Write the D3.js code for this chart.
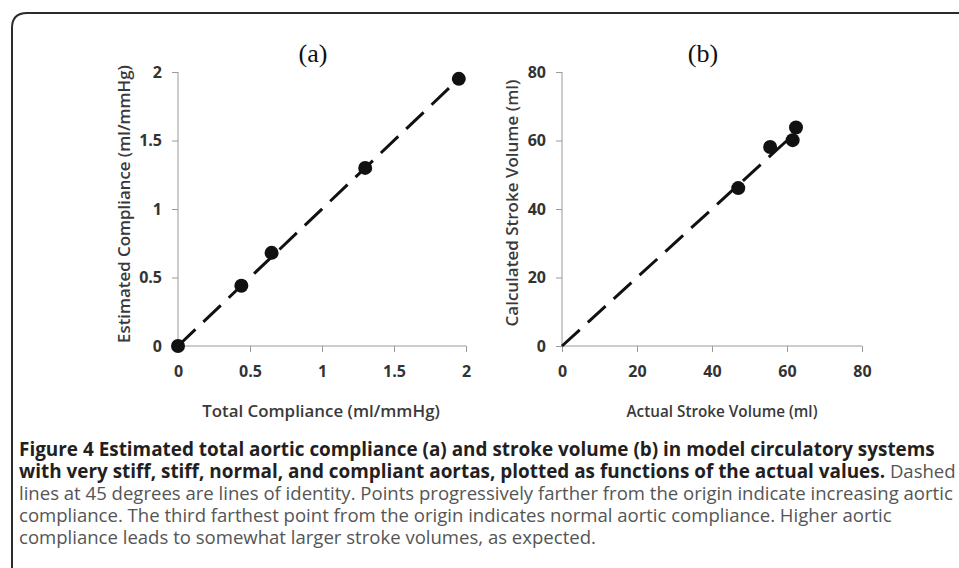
<!DOCTYPE html>
<html>
<head>
<meta charset="utf-8">
<script src="https://cdn.jsdelivr.net/npm/d3@7"></script>
<style>
	body { margin: 0; background: #fff; }
	svg { display: block; }
</style>
</head>
<body>
<svg id="fig" width="959" height="568"></svg>
<script>
// panel (a): total compliance vs estimated compliance (ml/mmHg)
var complianceActual = [0, 0.44, 0.65, 1.30, 1.95],
	complianceEstimated = [0, 0.44, 0.68, 1.30, 1.95],
	complianceTicks = [0, 0.5, 1, 1.5, 2];

// panel (b): actual vs calculated stroke volume (ml)
var strokeActual = [47, 55.5, 61.5, 62.4],
	strokeCalculated = [46.1, 58.1, 60.1, 63.8],
	strokeTicks = [0, 20, 40, 60, 80];

var captionBold1 = 'Figure 4 Estimated total aortic compliance (a) and stroke volume (b) in model circulatory systems',
	captionBold2 = 'with very stiff, stiff, normal, and compliant aortas, plotted as functions of the actual values.',
	captionRest = [
		' Dashed',
		'lines at 45 degrees are lines of identity. Points progressively farther from the origin indicate increasing aortic',
		'compliance. The third farthest point from the origin indicates normal aortic compliance. Higher aortic',
		'compliance leads to somewhat larger stroke volumes, as expected.'
	];

var svg = d3.select('svg#fig');
var sansFont = '"Open Sans", sans-serif';

// frame, only top-left corner visible
svg.append('path')
	.attr('d', 'M12,600 L12,28 Q12,13 27,13 L980,13')
	.attr('fill', 'none')
	.attr('stroke', '#2b2b2b')
	.attr('stroke-width', 2);

// scale font size so the text spans the wanted width, returns the size
function fitSize(sel, width) {
	var size = parseFloat(sel.style('font-size')),
		len = sel.node().getComputedTextLength();
	if (len > 0) size = size * width / len;
	sel.style('font-size', size + 'px');
	return size;
}

function panel(opts) {
	var x = d3.scaleLinear().domain(opts.domain).range([opts.left, opts.right]),
		y = d3.scaleLinear().domain(opts.domain).range([346, 72]);
	var g = svg.append('g');
	var fmt = function(d) { return String(d); };

	var xAxis = g.append('g')
		.attr('transform', 'translate(0,' + y(0) + ')')
		.call(d3.axisBottom(x).tickValues(opts.ticks).tickSize(6).tickPadding(14).tickFormat(fmt));
	var yAxis = g.append('g')
		.attr('transform', 'translate(' + x(0) + ',0)')
		.call(d3.axisLeft(y).tickValues(opts.ticks).tickSize(6).tickPadding(10).tickFormat(fmt));

	[xAxis, yAxis].forEach(function(a) {
		a.attr('font-size', null).attr('font-family', null);
		a.select('.domain').attr('stroke', '#9a9a9a').attr('d', a === xAxis
			? 'M' + opts.left + ',0H' + opts.right
			: 'M0,' + y(opts.domain[0]) + 'V' + y(opts.domain[1]));
		a.selectAll('.tick line').attr('stroke', '#9a9a9a');
		a.selectAll('.tick text')
			.attr('fill', '#333')
			.style('font-family', sansFont)
			.style('font-weight', 700)
			.style('font-size', '16px');
	});

	// dashed identity line
	g.append('line')
		.attr('x1', x(0)).attr('y1', y(0))
		.attr('x2', x(opts.lineEnd)).attr('y2', y(opts.lineEnd))
		.attr('stroke', '#111')
		.attr('stroke-width', 3)
		.attr('stroke-dasharray', '24,11');

	g.selectAll('circle')
		.data(opts.xs)
		.enter().append('circle')
		.attr('cx', function(d) { return x(d); })
		.attr('cy', function(d, i) { return y(opts.ys[i]); })
		.attr('r', 7)
		.attr('fill', '#111');

	g.append('text')
		.attr('x', opts.titleX)
		.attr('y', 62)
		.attr('text-anchor', 'middle')
		.attr('fill', '#111')
		.style('font-family', '"Liberation Serif", "Times New Roman", serif')
		.style('font-size', '26px')
		.text(opts.title);

	var xt = g.append('text')
		.attr('x', opts.xLabelX)
		.attr('y', 417)
		.attr('text-anchor', 'middle')
		.attr('fill', '#3a3a3a')
		.style('font-family', sansFont)
		.style('font-weight', 600)
		.style('font-size', '14px')
		.text(opts.xLabel);
	fitSize(xt, opts.xLabelW);

	var yt = g.append('text')
		.attr('transform', 'translate(' + opts.yLabelX + ',' + opts.yLabelY + ') rotate(-90)')
		.attr('text-anchor', 'middle')
		.attr('fill', '#3a3a3a')
		.style('font-family', sansFont)
		.style('font-weight', 600)
		.style('font-size', '14px')
		.text(opts.yLabel);
	fitSize(yt, opts.yLabelW);
}

panel({
	domain: [0, 2], ticks: complianceTicks, left: 178, right: 466,
	xs: complianceActual, ys: complianceEstimated, lineEnd: 1.95,
	title: '(a)', titleX: 313,
	xLabel: 'Total Compliance (ml/mmHg)', xLabelX: 321, xLabelW: 238,
	yLabel: 'Estimated Compliance (ml/mmHg)', yLabelX: 130, yLabelY: 204, yLabelW: 278
});

panel({
	domain: [0, 80], ticks: strokeTicks, left: 562, right: 862,
	xs: strokeActual, ys: strokeCalculated, lineEnd: 60.5,
	title: '(b)', titleX: 703,
	xLabel: 'Actual Stroke Volume (ml)', xLabelX: 722, xLabelW: 191,
	yLabel: 'Calculated Stroke Volume (ml)', yLabelX: 518, yLabelY: 203, yLabelW: 247
});

// caption
var cap = svg.append('g').style('font-family', sansFont).style('font-size', '16px');
var l1 = cap.append('text').attr('x', 19).attr('y', 456)
	.attr('fill', '#231f20').style('font-weight', 700).text(captionBold1);
var boldSize = fitSize(l1, 916);

var l3 = cap.append('text').attr('x', 19).attr('y', 500)
	.attr('fill', '#555').text(captionRest[1]);
var regSize = fitSize(l3, 934);

var l2 = cap.append('text').attr('x', 19).attr('y', 478);
l2.append('tspan').attr('fill', '#231f20').style('font-weight', 700)
	.style('font-size', boldSize + 'px').text(captionBold2);
l2.append('tspan').attr('fill', '#555').style('font-weight', 400)
	.style('font-size', regSize + 'px').text(captionRest[0]);

captionRest.slice(2).forEach(function(t, i) {
	cap.append('text')
		.attr('x', 19)
		.attr('y', 521.8 + i * 21.8)
		.attr('fill', '#555')
		.style('font-size', regSize + 'px')
		.text(t);
});
</script>
</body>
</html>
